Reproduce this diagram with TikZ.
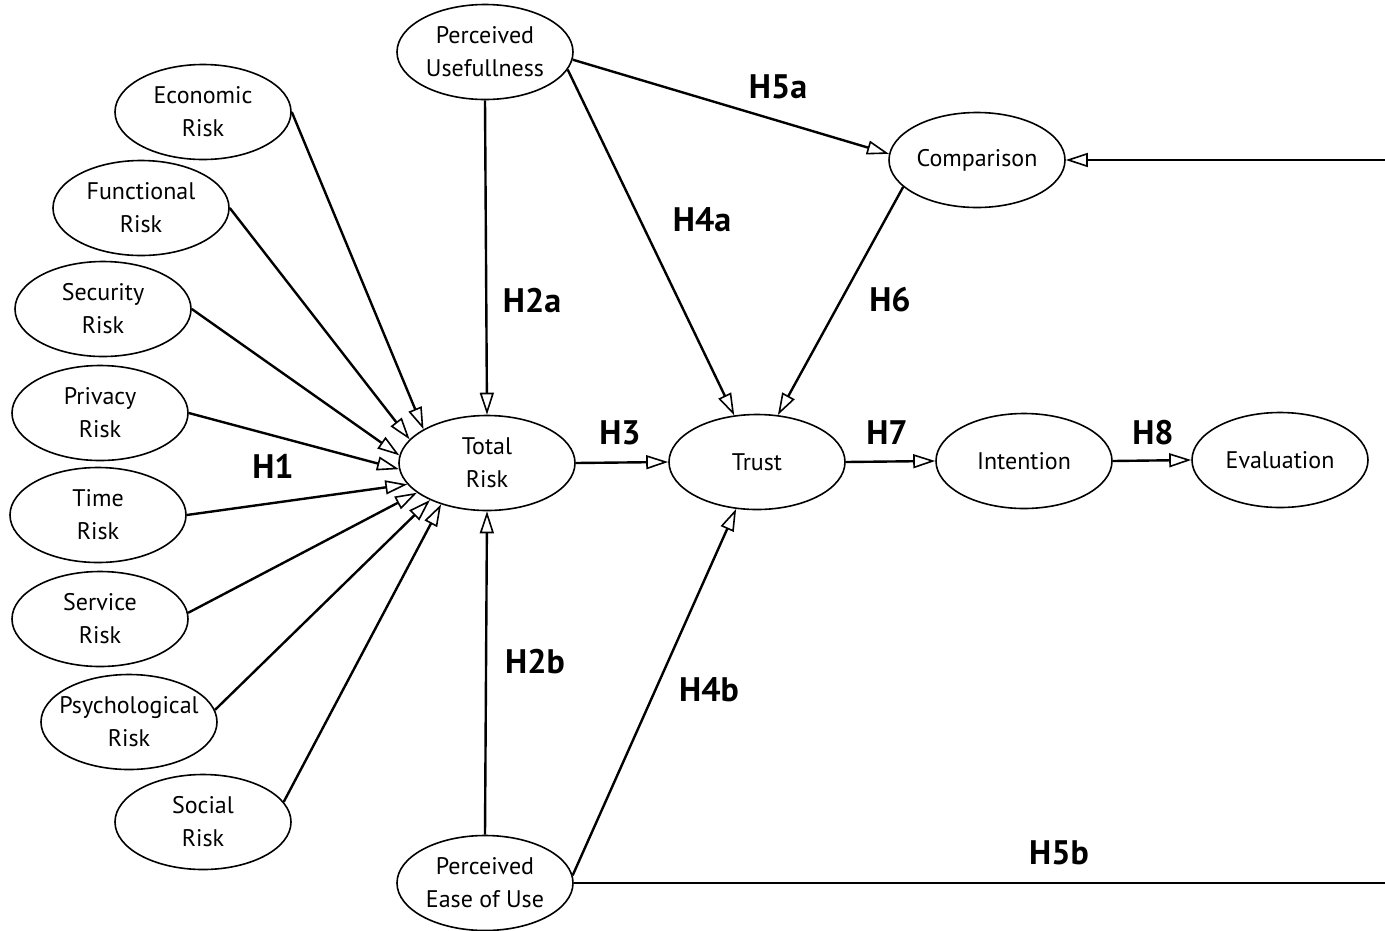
\documentclass[tikz,border=0pt]{standalone}
\usepackage{fontspec}
\setmainfont{PT Sans}
\usetikzlibrary{arrows.meta,shapes.geometric}
\begin{document}
\begin{tikzpicture}[x=1pt,y=-1pt,
  var/.style={ellipse,draw,line width=1.6pt,minimum width=176pt,minimum height=95pt,inner sep=0pt,align=center,font=\fontsize{24}{33}\selectfont},
  link/.style={line width=2.4pt,-{Triangle[open,length=22pt,width=14pt,line width=1.6pt]}},
  plain/.style={line width=2.4pt},
  hyp/.style={font=\fontsize{34}{40}\selectfont\bfseries}]
\useasboundingbox (0,0) rectangle (1385,930);
% nodes
\node[var] (pu) at (485,52) {Perceived\\Usefullness};
\node[var] (eco) at (203,112) {Economic\\Risk};
\node[var] (fun) at (141,208) {Functional\\Risk};
\node[var] (sec) at (103,309) {Security\\Risk};
\node[var] (pri) at (100,413) {Privacy\\Risk};
\node[var] (tim) at (98,515) {Time\\Risk};
\node[var] (ser) at (100,619) {Service\\Risk};
\node[var] (psy) at (129,722) {\makebox[110pt]{Psychological}\\Risk};
\node[var] (soc) at (203,822) {Social\\Risk};
\node[var] (tot) at (487,463) {Total\\Risk};
\node[var] (tru) at (757,462) {Trust};
\node[var] (int) at (1024,461) {Intention};
\node[var] (eva) at (1280,460) {Evaluation};
\node[var] (com) at (977,160) {Comparison};
\node[var] (peu) at (485,883) {Perceived\\Ease of Use};
\coordinate (r1) at (1385,160);
\coordinate (r2) at (1385,885);
% risk arrows
\draw[link] (eco.east) -- (tot.152);
\draw[link] (fun.east) -- (tot.163);
\draw[link] (sec.east) -- (tot.175);
\draw[link] (pri.east) -- (tot.184);
\draw[link] (tim.east) -- (tot.195);
\draw[link] (ser.4) -- (tot.203);
\draw[link] (psy.8) -- (tot.213);
\draw[link] (soc.14) -- (tot.222);
% other arrows
\draw[link] (pu.south) -- (tot.north);
\draw[link] (pu.-12) -- (tru.116);
\draw[link] (pu.-5) -- (com.176);
\draw[link] (com.200) -- (tru.66);
\draw[link] (r1 |- com.east) -- (com.east);
\draw[link] (peu.north) -- (tot.south);
\draw[link] (peu.5) -- (tru.246);
\draw[plain] (peu.east) -- (peu.east -| r2);
\draw[link] (tot.east) -- (tru.west);
\draw[link] (tru.east) -- (int.west);
\draw[link] (int.east) -- (eva.west);
% hypothesis labels
\node[hyp] (h5a) at (778,87) {H5a};
\node[hyp] (h4a) at (702,220) {H4a};
\node[hyp] (h2a) at (532,300) {H2a};
\node[hyp] (h6) at (890,300) {H6};
\node[hyp] (h3) at (620,433) {H3};
\node[hyp] (h7) at (887,433) {H7};
\node[hyp] (h8) at (1153,433) {H8};
\node[hyp] (h1) at (273,466) {H1};
\node[hyp] (h2b) at (535,662) {H2b};
\node[hyp] (h4b) at (709,690) {H4b};
\node[hyp] (h5b) at (1059,853) {H5b};
\end{tikzpicture}
\end{document}
